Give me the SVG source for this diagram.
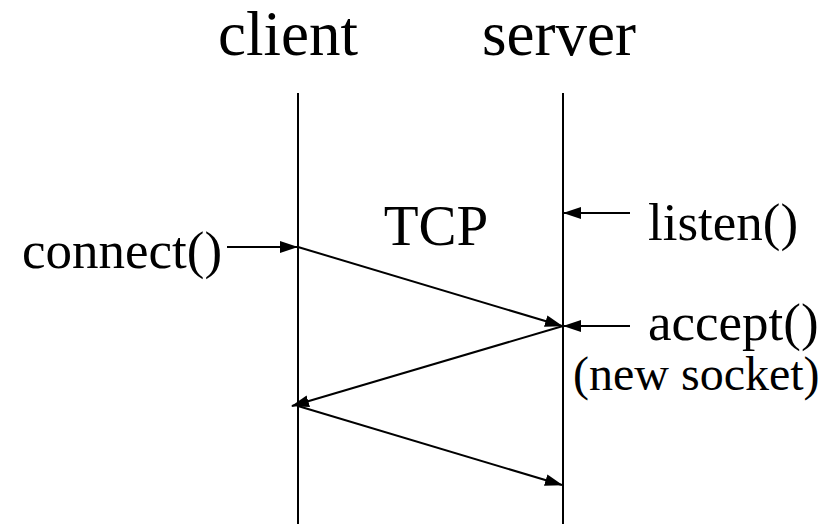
<svg xmlns="http://www.w3.org/2000/svg" width="831" height="524" viewBox="0 0 831 524">
<style>
text{font-family:"Liberation Serif","Times New Roman",serif;fill:#000}
.t{font-size:63px}
.m{font-size:53px}
.s{font-size:48px}
.ln{stroke:#000;stroke-width:2;fill:none}
.ar{stroke:#000;stroke-width:2;fill:none;marker-end:url(#ah)}
</style>
<defs>
<marker id="ah" markerWidth="18" markerHeight="12" refX="17" refY="6" orient="auto" markerUnits="userSpaceOnUse">
<path d="M0,0 L18,6 L0,12 Z" fill="#000"/>
</marker>
</defs>
<rect width="831" height="524" fill="#fff"/>
<g id="client">
<text class="t" x="288" y="55" text-anchor="middle">client</text>
<line class="ln" x1="298" y1="93" x2="298" y2="524"/>
</g>
<g id="server">
<text class="t" x="559" y="55" text-anchor="middle">server</text>
<line class="ln" x1="563" y1="93" x2="563" y2="524"/>
</g>
<g id="tcp"><text class="m" x="436" y="245" text-anchor="middle" style="font-size:57px">TCP</text></g>
<g id="connect"><text class="m" x="22" y="268">connect()</text></g>
<g id="listen"><text class="m" x="648" y="240">listen()</text></g>
<g id="accept"><text class="m" x="648" y="340">accept()</text></g>
<g id="newsocket"><text class="s" x="573" y="390">(new socket)</text></g>
<g id="connectors">
<line class="ar" x1="227" y1="247" x2="297" y2="247"/>
<line class="ar" x1="630" y1="213" x2="564" y2="213"/>
<line class="ar" x1="630" y1="326" x2="564" y2="326"/>
<line class="ar" x1="298" y1="247" x2="562" y2="326"/>
<line class="ar" x1="563" y1="326" x2="292" y2="406"/>
<line class="ar" x1="298" y1="406" x2="562" y2="485"/>
</g>
</svg>
